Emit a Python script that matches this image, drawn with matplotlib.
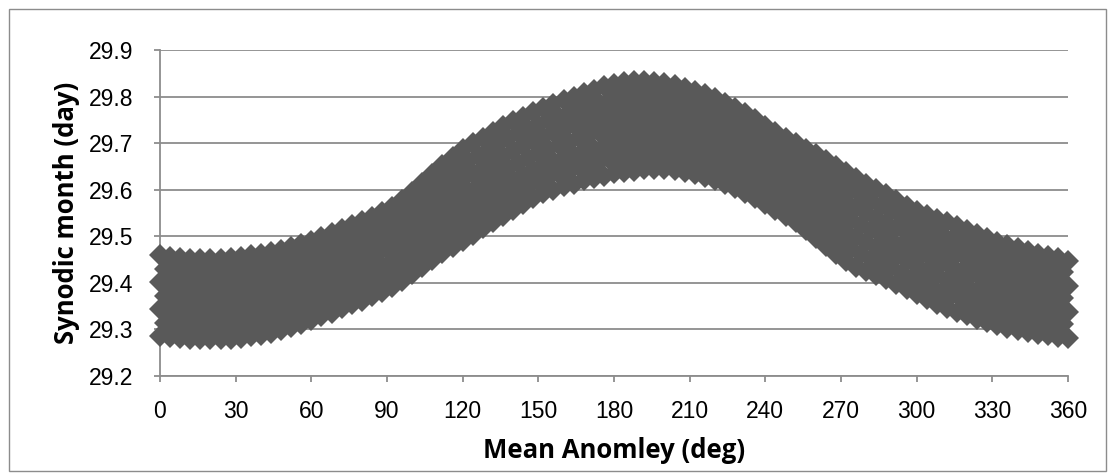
import matplotlib
matplotlib.use("Agg")
import matplotlib.pyplot as plt
from matplotlib.patches import Rectangle

# ---- data (mean anomaly in degrees, synodic month in days) ----
x_even = list(range(0, 361, 4))
x_odd = list(range(2, 360, 4))

s0 = [29.285, 29.283, 29.281, 29.280, 29.280, 29.280, 29.280, 29.280, 29.282, 29.285,
      29.288, 29.292, 29.298, 29.305, 29.312, 29.320, 29.328, 29.336, 29.345, 29.354,
      29.362, 29.371, 29.380, 29.391, 29.405, 29.420, 29.435, 29.450, 29.464, 29.477,
      29.490, 29.503, 29.517, 29.530, 29.544, 29.557, 29.570, 29.582, 29.592, 29.600,
      29.607, 29.613, 29.620, 29.625, 29.630, 29.635, 29.638, 29.641, 29.644, 29.645,
      29.645, 29.642, 29.638, 29.633, 29.628, 29.621, 29.613, 29.603, 29.593, 29.582,
      29.570, 29.557, 29.543, 29.530, 29.514, 29.497, 29.480, 29.461, 29.447, 29.435,
      29.426, 29.417, 29.408, 29.397, 29.387, 29.376, 29.365, 29.355, 29.346, 29.338,
      29.330, 29.322, 29.315, 29.309, 29.303, 29.298, 29.294, 29.290, 29.287, 29.284,
      29.282]

s2 = [29.343, 29.341, 29.338, 29.337, 29.337, 29.337, 29.337, 29.338, 29.340, 29.343,
      29.346, 29.350, 29.356, 29.362, 29.369, 29.377, 29.385, 29.393, 29.402, 29.411,
      29.419, 29.428, 29.437, 29.448, 29.463, 29.479, 29.495, 29.511, 29.527, 29.542,
      29.556, 29.569, 29.582, 29.595, 29.608, 29.620, 29.632, 29.643, 29.653, 29.661,
      29.669, 29.675, 29.683, 29.688, 29.694, 29.699, 29.702, 29.705, 29.707, 29.707,
      29.706, 29.703, 29.698, 29.693, 29.687, 29.679, 29.671, 29.661, 29.650, 29.638,
      29.626, 29.613, 29.599, 29.587, 29.572, 29.557, 29.541, 29.524, 29.510, 29.498,
      29.488, 29.478, 29.469, 29.457, 29.447, 29.436, 29.425, 29.416, 29.407, 29.399,
      29.391, 29.383, 29.375, 29.369, 29.363, 29.357, 29.352, 29.348, 29.344, 29.340,
      29.337]

s4 = [29.402, 29.398, 29.396, 29.395, 29.394, 29.394, 29.395, 29.396, 29.398, 29.401,
      29.404, 29.408, 29.413, 29.420, 29.426, 29.433, 29.441, 29.449, 29.458, 29.467,
      29.476, 29.485, 29.495, 29.506, 29.520, 29.537, 29.554, 29.572, 29.589, 29.606,
      29.622, 29.634, 29.647, 29.659, 29.672, 29.684, 29.695, 29.705, 29.714, 29.723,
      29.730, 29.738, 29.745, 29.752, 29.758, 29.763, 29.767, 29.769, 29.770, 29.769,
      29.768, 29.764, 29.759, 29.752, 29.746, 29.738, 29.728, 29.718, 29.707, 29.695,
      29.681, 29.668, 29.656, 29.643, 29.630, 29.616, 29.602, 29.587, 29.574, 29.562,
      29.551, 29.540, 29.529, 29.518, 29.506, 29.495, 29.486, 29.477, 29.469, 29.461,
      29.453, 29.444, 29.436, 29.428, 29.422, 29.416, 29.411, 29.405, 29.401, 29.397,
      29.393]

s6 = [29.460, 29.456, 29.453, 29.452, 29.451, 29.451, 29.452, 29.454, 29.456, 29.459,
      29.462, 29.466, 29.471, 29.477, 29.483, 29.490, 29.498, 29.506, 29.515, 29.524,
      29.533, 29.542, 29.552, 29.563, 29.578, 29.596, 29.614, 29.633, 29.652, 29.671,
      29.688, 29.700, 29.712, 29.724, 29.736, 29.747, 29.757, 29.766, 29.775, 29.784,
      29.792, 29.800, 29.808, 29.815, 29.822, 29.827, 29.831, 29.833, 29.833, 29.831,
      29.829, 29.825, 29.819, 29.812, 29.805, 29.796, 29.786, 29.776, 29.764, 29.751,
      29.737, 29.724, 29.712, 29.700, 29.688, 29.676, 29.663, 29.650, 29.637, 29.625,
      29.613, 29.601, 29.590, 29.578, 29.566, 29.555, 29.546, 29.538, 29.530, 29.522,
      29.514, 29.505, 29.496, 29.488, 29.482, 29.475, 29.469, 29.463, 29.458, 29.453,
      29.448]

s1 = [29.313, 29.311, 29.309, 29.309, 29.309, 29.309, 29.309, 29.310, 29.313, 29.316,
      29.319, 29.324, 29.330, 29.337, 29.344, 29.352, 29.360, 29.369, 29.378, 29.386,
      29.395, 29.404, 29.414, 29.427, 29.442, 29.457, 29.473, 29.488, 29.502, 29.516,
      29.529, 29.543, 29.556, 29.569, 29.582, 29.595, 29.607, 29.618, 29.627, 29.634,
      29.641, 29.648, 29.654, 29.659, 29.665, 29.669, 29.672, 29.674, 29.676, 29.676,
      29.674, 29.670, 29.666, 29.660, 29.654, 29.646, 29.637, 29.627, 29.616, 29.604,
      29.591, 29.578, 29.565, 29.551, 29.535, 29.519, 29.502, 29.486, 29.473, 29.462,
      29.452, 29.443, 29.433, 29.422, 29.411, 29.401, 29.390, 29.381, 29.373, 29.365,
      29.357, 29.349, 29.342, 29.336, 29.330, 29.325, 29.321, 29.317, 29.314, 29.311]

s3 = [29.371, 29.368, 29.367, 29.366, 29.366, 29.366, 29.367, 29.368, 29.371, 29.374,
      29.377, 29.382, 29.388, 29.394, 29.401, 29.409, 29.417, 29.426, 29.435, 29.443,
      29.452, 29.461, 29.472, 29.484, 29.500, 29.516, 29.533, 29.550, 29.566, 29.582,
      29.595, 29.608, 29.621, 29.634, 29.646, 29.658, 29.669, 29.679, 29.688, 29.696,
      29.703, 29.710, 29.717, 29.723, 29.729, 29.733, 29.736, 29.738, 29.738, 29.738,
      29.735, 29.731, 29.726, 29.720, 29.713, 29.704, 29.695, 29.684, 29.673, 29.660,
      29.647, 29.634, 29.621, 29.608, 29.594, 29.579, 29.564, 29.549, 29.536, 29.525,
      29.514, 29.504, 29.493, 29.482, 29.471, 29.461, 29.451, 29.442, 29.434, 29.426,
      29.418, 29.410, 29.402, 29.396, 29.390, 29.384, 29.379, 29.375, 29.371, 29.367]

s5 = [29.429, 29.426, 29.424, 29.423, 29.423, 29.423, 29.424, 29.426, 29.429, 29.432,
      29.435, 29.440, 29.445, 29.451, 29.458, 29.466, 29.474, 29.482, 29.491, 29.500,
      29.509, 29.518, 29.529, 29.542, 29.558, 29.575, 29.593, 29.612, 29.630, 29.647,
      29.661, 29.673, 29.686, 29.698, 29.710, 29.721, 29.731, 29.740, 29.749, 29.757,
      29.765, 29.773, 29.780, 29.787, 29.793, 29.797, 29.800, 29.801, 29.801, 29.799,
      29.796, 29.792, 29.786, 29.779, 29.771, 29.762, 29.752, 29.741, 29.729, 29.716,
      29.703, 29.690, 29.678, 29.665, 29.653, 29.639, 29.626, 29.612, 29.599, 29.588,
      29.576, 29.565, 29.554, 29.542, 29.531, 29.521, 29.512, 29.503, 29.495, 29.487,
      29.479, 29.470, 29.462, 29.455, 29.449, 29.443, 29.437, 29.432, 29.427, 29.423]

x_ticks = [0, 30, 60, 90, 120, 150, 180, 210, 240, 270, 300, 330, 360]
y_ticks = [29.2, 29.3, 29.4, 29.5, 29.6, 29.7, 29.8, 29.9]
x_title = "Mean Anomley (deg)"
y_title = "Synodic month (day)"

# ---- figure ----
W, H = 1115, 476
fig = plt.figure(figsize=(W / 100, H / 100), dpi=100)
fig.patch.set_facecolor("white")
fig.add_artist(Rectangle((8.5 / W, 1 - 470.5 / H), (1106 - 8.5) / W, (470.5 - 8.5) / H,
                         transform=fig.transFigure, fill=False,
                         edgecolor="#8c8c8c", linewidth=1.0))

ax = fig.add_axes([160 / W, 1 - 376 / H, (1068 - 160) / W, (376 - 50) / H])

marker_color = "#595959"
series = [(x_even, s0), (x_odd, s1), (x_even, s2), (x_odd, s3),
          (x_even, s4), (x_odd, s5), (x_even, s6)]
for xs, ys in series:
    ax.plot(xs, ys, linestyle="none", marker="D", markersize=11.5,
            color=marker_color, markeredgewidth=0, clip_on=False, zorder=3)

ax.set_xlim(0, 360)
ax.set_ylim(29.2, 29.9)
ax.set_xticks(x_ticks)
ax.set_yticks(y_ticks)
ax.set_yticklabels([f"{v:.1f}" for v in y_ticks])

grid_color = "#8c8c8c"
ax.yaxis.grid(True, color=grid_color, linewidth=1.3)
ax.set_axisbelow(True)
for side in ["top", "right"]:
    ax.spines[side].set_visible(False)
for side in ["left", "bottom"]:
    ax.spines[side].set_color(grid_color)
    ax.spines[side].set_linewidth(1.3)

ax.tick_params(axis="both", direction="out", length=4.5, width=1.3, color=grid_color,
               labelsize=16.5, labelcolor="black")
for lab in ax.get_xticklabels() + ax.get_yticklabels():
    lab.set_fontfamily("Liberation Sans")
ax.tick_params(axis="x", pad=13)
ax.tick_params(axis="y", pad=15)

ax.set_xlabel(x_title, fontsize=18.5, fontweight="bold", family="Open Sans", labelpad=10)
ax.set_ylabel(y_title, fontsize=18.5, fontweight="bold", family="Open Sans", labelpad=6)

fig.savefig("out.png", dpi=100)
